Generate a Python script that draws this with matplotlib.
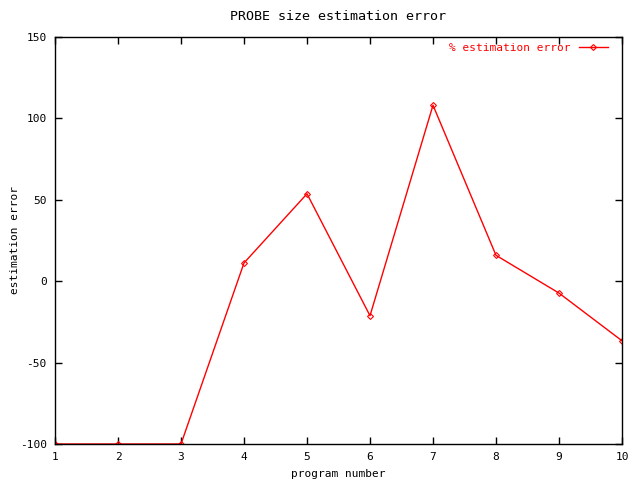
import matplotlib
matplotlib.use("Agg")
import matplotlib.pyplot as plt

programs = [1, 2, 3, 4, 5, 6, 7, 8, 9, 10]
errors = [-100, -100, -100, 11.2, 53.7, -21.2, 108.1, 15.9, -7.3, -36.6]
xticks = [1, 2, 3, 4, 5, 6, 7, 8, 9, 10]
yticks = [-100, -50, 0, 50, 100, 150]

plt.rcParams['font.family'] = ['DejaVu Sans Mono']
plt.rcParams['font.size'] = 8
plt.rcParams['axes.unicode_minus'] = False

fig = plt.figure(figsize=(6.4, 4.8), dpi=100)
ax = fig.add_axes([55/640, 1-444/480, (622-55)/640, (444-37)/480])
ax.plot(programs, errors, color='red', lw=1, marker='D', markersize=3,
        markerfacecolor='none', markeredgecolor='red', markeredgewidth=0.8,
        label='% estimation error')
ax.set_xlim(1, 10)
ax.set_ylim(-100, 150)
ax.set_xticks(xticks)
ax.set_yticks(yticks)
ax.tick_params(direction='in', top=True, right=True, length=5, width=1, pad=6)
for s in ax.spines.values():
    s.set_linewidth(1)
ax.set_title('PROBE size estimation error', pad=12)
ax.set_xlabel('program number', labelpad=5)
ax.set_ylabel('estimation error', va='center')
ax.yaxis.set_label_coords((15 - 55) / 567, 0.5)
leg = ax.legend(loc='upper right', frameon=False, markerfirst=False,
                handlelength=2.6, borderaxespad=0.1, bbox_to_anchor=(0.985, 1.0))
for t in leg.get_texts():
    t.set_color('red')
fig.savefig('out.png', dpi=100)
